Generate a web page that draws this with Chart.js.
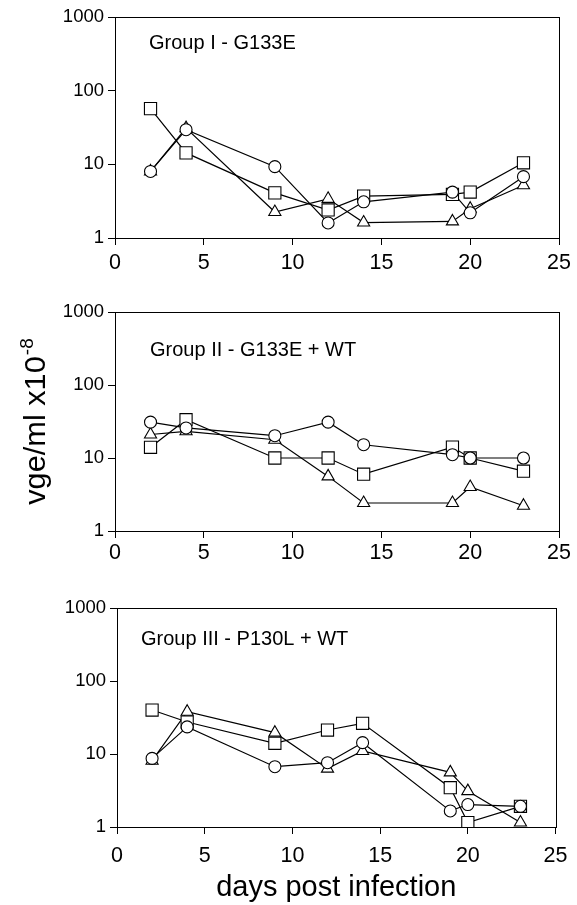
<!DOCTYPE html>
<html><head><meta charset="utf-8">
<script src="https://cdn.jsdelivr.net/npm/chart.js@4"></script>
<style>
html,body{margin:0;padding:0;background:#fff;}
body{width:577px;height:905px;position:relative;overflow:hidden;}
canvas{position:absolute;left:0;}
</style></head><body>
<canvas id="c0" width="577" height="290" style="top:0px"></canvas>
<canvas id="c1" width="577" height="293" style="top:290px"></canvas>
<canvas id="c2" width="577" height="325" style="top:580px"></canvas>
<script>
// ---- data ----
const days = [2, 4, 9, 12, 14, 19, 20, 23];
const xTicks = [0, 5, 10, 15, 20, 25];
const yTicks = [1, 10, 100, 1000];
const groupTitles = ['Group I - G133E', 'Group II - G133E + WT', 'Group III - P130L + WT'];
const xTitle = 'days post infection';
const yTitleMain = 'vge/ml x10';
const yTitleSup = '-8';

const g1Circle   = [8.0, 29.5, 9.3, 1.6, 3.1, 4.2, 2.2, 6.8];
const g1Square   = [57, 14.3, 4.1, 2.4, 3.7, 3.9, 4.2, 10.5];
const g1Triangle = [8.0, 31, 2.25, 3.4, 1.62, 1.68, 2.5, 5.2];

const g2Circle   = [31, 25.8, 20.2, 31, 15.2, 11.1, 10, 10];
const g2Square   = [14, 33.5, 10, 10, 6.0, 14.1, 10, 6.6];
const g2Triangle = [21, 23.2, 17.8, 5.6, 2.42, 2.42, 4.0, 2.22];

const g3Circle   = [8.7, 23.5, 6.7, 7.6, 14.3, 1.66, 2.03, 1.92];
const g3Square   = [40, 27.4, 14, 21.3, 26.3, 3.45, 1.15, 1.92];
const g3Triangle = [8.1, 38, 19.6, 6.3, 11, 5.6, 3.1, 1.15];

const groups = [
  [g1Circle, g1Square, g1Triangle],
  [g2Circle, g2Square, g2Triangle],
  [g3Circle, g3Square, g3Triangle]
];

// ---- layout / style ----
const FONT = '"Liberation Sans", Arial, Helvetica, sans-serif';
const layouts = [
  {padTop: 17, padRight: 18, yWidth: 115, xHeight: 52, xPad: 5,   labelDx: 34, labelDy: 26},
  {padTop: 22, padRight: 18, yWidth: 115, xHeight: 52, xPad: 2.5, labelDx: 35, labelDy: 38},
  {padTop: 28, padRight: 17, yWidth: 117, xHeight: 78, xPad: 9.5, labelDx: 24, labelDy: 31}
];
const markers = [
  {style: 'circle',   radius: 6},
  {style: 'rect',     radius: 8.6},
  {style: 'triangle', radius: 7}
];

const framePlugin = {
  id: 'frame',
  afterDraw(chart, args, opts) {
    const {ctx, chartArea: a} = chart;
    ctx.save();
    ctx.strokeStyle = '#000';
    ctx.lineWidth = 1;
    const l = Math.round(a.left) + 0.5, r = Math.round(a.right) + 0.5;
    const t = Math.round(a.top) + 0.5, b = Math.round(a.bottom) + 0.5;
    ctx.strokeRect(l, t, r - l, b - t);
    // group label
    ctx.fillStyle = '#000';
    ctx.font = '20px ' + FONT;
    ctx.textAlign = 'left';
    ctx.textBaseline = 'middle';
    ctx.fillText(opts.label, a.left + opts.dx, a.top + opts.dy);
    // y title
    if (opts.yTitle) {
      const cy = (a.top + a.bottom) / 2;
      ctx.translate(45, cy);
      ctx.rotate(-Math.PI / 2);
      ctx.scale(1.06, 1);
      ctx.font = '29px ' + FONT;
      const w1 = ctx.measureText(yTitleMain).width;
      ctx.font = '18px ' + FONT;
      const w2 = ctx.measureText(yTitleSup).width;
      const total = w1 + 1 + w2;
      ctx.textBaseline = 'alphabetic';
      ctx.font = '29px ' + FONT;
      ctx.fillText(yTitleMain, -total / 2, 0);
      ctx.font = '18px ' + FONT;
      ctx.fillText(yTitleSup, -total / 2 + w1 + 1, -12);
    }
    ctx.restore();
  }
};

function makeChart(i) {
  const L = layouts[i];
  const data = groups[i];
  const datasets = [];
  // lines (drawn beneath)
  data.forEach((vals) => {
    datasets.push({
      data: days.map((d, k) => ({x: d, y: vals[k]})),
      showLine: true, borderColor: '#000', borderWidth: 1.2,
      pointRadius: 0, order: 10, fill: false
    });
  });
  // markers (drawn on top; lower order drawn later)
  data.forEach((vals, j) => {
    datasets.push({
      data: days.map((d, k) => ({x: d, y: vals[k]})),
      showLine: false,
      pointStyle: markers[j].style, pointRadius: markers[j].radius,
      pointBackgroundColor: '#fff', pointBorderColor: '#000', pointBorderWidth: 1.1,
      order: j
    });
  });
  const isLast = i === 2;
  return new Chart(document.getElementById('c' + i), {
    type: 'scatter',
    data: {datasets},
    plugins: [framePlugin],
    options: {
      responsive: false, animation: false, devicePixelRatio: 1,
      layout: {padding: {top: L.padTop, right: L.padRight, left: 0, bottom: 0}},
      plugins: {
        legend: {display: false}, tooltip: {enabled: false},
        frame: {label: groupTitles[i], dx: L.labelDx, dy: L.labelDy, yTitle: i === 1}
      },
      scales: {
        x: {
          type: 'linear', min: 0, max: 25,
          afterBuildTicks: s => { s.ticks = xTicks.map(v => ({value: v})); },
          afterFit: s => { s.height = L.xHeight; },
          grid: {display: true, drawOnChartArea: false, drawTicks: true, tickLength: 7, color: '#000', lineWidth: 1},
          border: {display: true, color: '#000', width: 1},
          ticks: {color: '#000', font: {family: FONT, size: 21.5}, padding: L.xPad, maxRotation: 0, callback: v => String(v)},
          title: {display: isLast, text: xTitle, color: '#000', font: {family: FONT, size: 29}, padding: {top: 0, bottom: 0}}
        },
        y: {
          type: 'logarithmic', min: 1, max: 1000,
          afterBuildTicks: s => { s.ticks = yTicks.map(v => ({value: v, major: true})); },
          afterFit: s => { s.width = L.yWidth; },
          grid: {display: true, drawOnChartArea: false, drawTicks: true, tickLength: 7, color: '#000', lineWidth: 1},
          border: {display: true, color: '#000', width: 1},
          ticks: {color: '#000', font: {family: FONT, size: 18.5}, padding: 4, callback: v => String(v)}
        }
      }
    }
  });
}
[0, 1, 2].forEach(makeChart);
</script>
</body></html>
